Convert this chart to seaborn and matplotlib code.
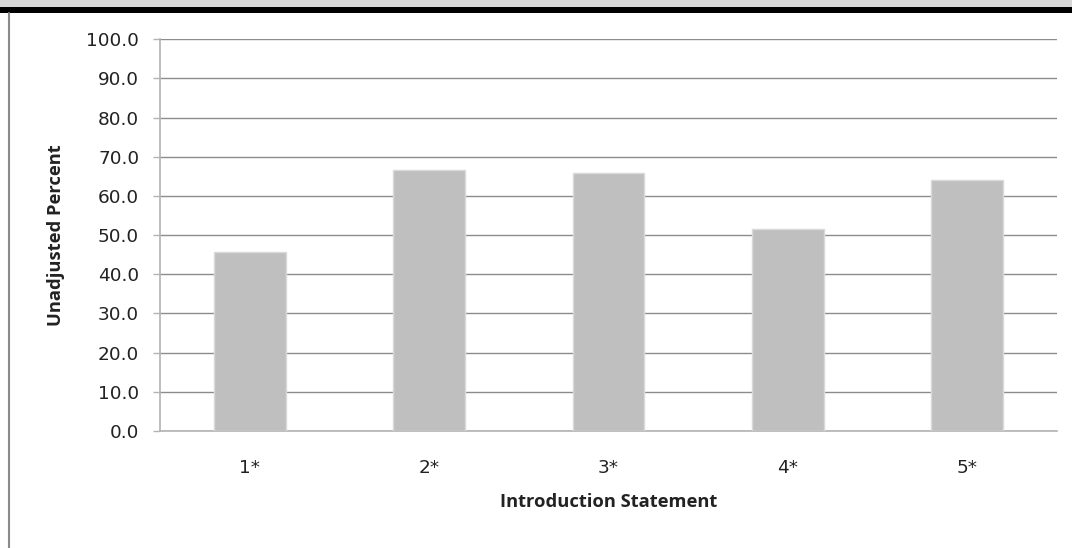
import matplotlib
matplotlib.use("Agg")
import matplotlib.pyplot as plt
from matplotlib.patches import Rectangle
from matplotlib.lines import Line2D
import seaborn as sns
import pandas as pd

categories = ["1*", "2*", "3*", "4*", "5*"]
percent = [45.6, 66.6, 65.8, 51.5, 64.0]
y_ticks = [0, 10, 20, 30, 40, 50, 60, 70, 80, 90, 100]

sns.set_theme(style="white")
plt.rcParams["font.family"] = ["DejaVu Sans"]

df = pd.DataFrame({"statement": categories, "percent": percent})

W, H = 1072, 548
fig = plt.figure(figsize=(W / 100, H / 100), dpi=100)
fig.patch.set_facecolor("white")
ax = fig.add_axes([160 / W, 1 - 431 / H, (1057 - 160) / W, (431 - 39.3) / H])

sns.barplot(data=df, x="statement", y="percent", color="#bfbfbf",
            saturation=1, width=0.4, edgecolor="#d9d9d9", linewidth=1,
            ax=ax, zorder=3)

ax.set_xlim(-0.5, 4.5)
ax.set_ylim(0, 100)
ax.set_yticks(y_ticks)
ax.set_yticklabels([f"{v:.1f}" for v in y_ticks])
ax.yaxis.grid(True, color="#8c8c8c", linewidth=1)
ax.set_axisbelow(True)

for side in ("top", "right"):
    ax.spines[side].set_visible(False)
for side in ("left", "bottom"):
    ax.spines[side].set_color("#b3b3b3")
    ax.spines[side].set_linewidth(1.2)

ax.tick_params(axis="y", left=True, length=5, width=1, color="#b3b3b3",
               labelsize=13.3, labelcolor="#222222", pad=10)
ax.tick_params(axis="x", bottom=False, labelsize=13.3, labelcolor="#222222", pad=14)

label_font = dict(family=["Open Sans", "DejaVu Sans"], fontsize=13.2,
                  fontweight="bold", color="#222222")
ax.set_xlabel("Introduction Statement", labelpad=12, **label_font)
ax.set_ylabel("Unadjusted Percent", labelpad=15.5, **label_font)

# page frame: grey strip, heavy black rule and a thin left border
fig.patches.append(Rectangle((0, 1 - 7 / H), 1, 7 / H, transform=fig.transFigure,
                             facecolor="#d6d6d6", edgecolor="none", zorder=0))
fig.patches.append(Rectangle((0, 1 - 13 / H), 1, 6 / H, transform=fig.transFigure,
                             facecolor="black", edgecolor="none", zorder=1))
fig.lines.append(Line2D([8.5 / W, 8.5 / W], [0, 1 - 13 / H], transform=fig.transFigure,
                        color="#8a8a8a", linewidth=1.5))

fig.savefig("out.png", dpi=100)
